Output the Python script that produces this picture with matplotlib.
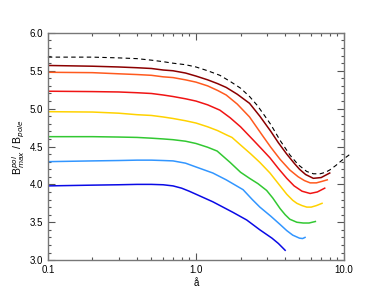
import matplotlib
matplotlib.use("Agg")
import matplotlib.pyplot as plt
from matplotlib.ticker import FixedLocator, NullFormatter

plt.rcParams["font.family"] = ["Liberation Sans", "DejaVu Sans"]

# ── data ─────────────────────────────────────────────────────────────────────
dash_x = [0.1, 0.2, 0.3, 0.4, 0.5, 0.6, 0.7, 0.85, 1.0, 1.2, 1.45, 1.7, 2.0, 2.3,
          2.6, 2.9, 3.2, 3.7, 4.3, 4.9, 5.6, 6.2, 6.9, 7.5, 8.0, 8.8, 9.7, 11.0]
dash_y = [5.68, 5.68, 5.67, 5.66, 5.64, 5.62, 5.60, 5.58, 5.55, 5.50, 5.44, 5.36, 5.27, 5.16,
          5.04, 4.91, 4.79, 4.58, 4.39, 4.26, 4.17, 4.14, 4.14, 4.16, 4.19, 4.25, 4.32, 4.40]

darkred_x = [0.1, 0.2, 0.3, 0.4, 0.5, 0.6, 0.7, 0.85, 1.0, 1.2, 1.4, 1.6, 1.9, 2.3,
             2.7, 3.2, 3.6, 4.1, 4.6, 5.0, 5.5, 6.2, 7.0, 8.0]
darkred_y = [5.57, 5.56, 5.55, 5.54, 5.53, 5.51, 5.50, 5.47, 5.43, 5.38, 5.33, 5.28, 5.19, 5.07,
             4.90, 4.70, 4.55, 4.40, 4.28, 4.20, 4.13, 4.08, 4.09, 4.15]

orange_x = [0.1, 0.2, 0.3, 0.4, 0.5, 0.6, 0.7, 0.85, 1.0, 1.2, 1.4, 1.6, 1.9, 2.3,
            2.8, 3.2, 3.7, 4.3, 4.9, 5.4, 5.9, 6.5, 7.1, 7.7]
orange_y = [5.48, 5.475, 5.46, 5.45, 5.44, 5.42, 5.41, 5.38, 5.35, 5.30, 5.24, 5.18, 5.06, 4.89,
            4.65, 4.49, 4.33, 4.19, 4.10, 4.05, 4.02, 4.02, 4.04, 4.06]

red_x = [0.1, 0.2, 0.3, 0.4, 0.5, 0.6, 0.7, 0.85, 1.0, 1.2, 1.45, 1.7, 2.0, 2.45,
         2.8, 3.16, 3.6, 4.1, 4.6, 5.2, 5.9, 6.6, 7.4]
red_y = [5.23, 5.225, 5.22, 5.21, 5.20, 5.18, 5.16, 5.13, 5.10, 5.05, 4.98, 4.88, 4.76, 4.58,
         4.46, 4.35, 4.21, 4.08, 3.98, 3.91, 3.88, 3.90, 3.95]

yellow_x = [0.1, 0.2, 0.3, 0.4, 0.5, 0.6, 0.7, 0.85, 1.0, 1.2, 1.4, 1.62, 1.75, 2.0,
            2.35, 2.7, 3.16, 3.7, 4.1, 4.5, 4.8, 5.2, 5.6, 6.0, 6.5, 7.1]
yellow_y = [4.96, 4.955, 4.94, 4.92, 4.91, 4.89, 4.87, 4.84, 4.81, 4.76, 4.71, 4.65, 4.62, 4.52,
            4.40, 4.29, 4.15, 3.98, 3.87, 3.79, 3.75, 3.72, 3.70, 3.70, 3.72, 3.75]

green_x = [0.1, 0.2, 0.3, 0.4, 0.5, 0.6, 0.7, 0.85, 1.0, 1.2, 1.39, 1.7, 2.0, 2.3,
           2.62, 3.0, 3.3, 3.7, 4.0, 4.3, 4.8, 5.3, 5.8, 6.4]
green_y = [4.63, 4.63, 4.625, 4.62, 4.61, 4.60, 4.59, 4.57, 4.54, 4.49, 4.44, 4.29, 4.16, 4.08,
           4.01, 3.92, 3.82, 3.68, 3.60, 3.54, 3.50, 3.49, 3.49, 3.51]

lblue_x = [0.1, 0.2, 0.3, 0.4, 0.5, 0.6, 0.7, 0.85, 1.0, 1.3, 1.6, 2.08, 2.4, 2.7,
           3.2, 3.7, 4.1, 4.5, 5.0, 5.25, 5.45]
lblue_y = [4.30, 4.31, 4.315, 4.32, 4.32, 4.315, 4.31, 4.28, 4.23, 4.15, 4.06, 3.93, 3.80, 3.70,
           3.58, 3.47, 3.39, 3.33, 3.29, 3.285, 3.30]

blue_x = [0.1, 0.2, 0.3, 0.4, 0.5, 0.6, 0.7, 0.8, 0.9, 1.0, 1.3, 1.78, 2.2, 2.7,
          3.26, 3.6, 4.0]
blue_y = [3.98, 3.99, 3.995, 4.00, 4.00, 3.995, 3.98, 3.95, 3.91, 3.87, 3.77, 3.63, 3.53, 3.40,
          3.29, 3.22, 3.13]

series = [
    (darkred_x, darkred_y, "#8B0000"),
    (orange_x, orange_y, "#FF5A1E"),
    (red_x, red_y, "#F01414"),
    (yellow_x, yellow_y, "#FFD200"),
    (green_x, green_y, "#32C832"),
    (lblue_x, lblue_y, "#3296FF"),
    (blue_x, blue_y, "#0A0AE6"),
]

fig = plt.figure(figsize=(3.74, 2.99), dpi=100)
ax = fig.add_axes([0.128, 0.130, 0.792, 0.760])

ax.plot(dash_x, dash_y, color="black", lw=0.8, ls=(0, (4, 3)), clip_on=False)
for xs, ys, c in series:
    ax.plot(xs, ys, color=c, lw=1.1)

ax.set_xscale("log")
ax.set_xlim(0.1, 10.0)
ax.set_ylim(3.0, 6.0)

ax.xaxis.set_major_locator(FixedLocator([0.1, 1.0, 10.0]))
ax.set_xticklabels(["0.1", "1.0", "10.0"])
minor_x = [m * d for d in (0.1, 1.0) for m in range(2, 10)]
ax.xaxis.set_minor_locator(FixedLocator(minor_x))
ax.xaxis.set_minor_formatter(NullFormatter())

ax.set_yticks([3.0, 3.5, 4.0, 4.5, 5.0, 5.5, 6.0])
ax.set_yticklabels(["3.0", "3.5", "4.0", "4.5", "5.0", "5.5", "6.0"])
ax.yaxis.set_minor_locator(FixedLocator([3.0 + 0.1 * i for i in range(31)]))

ax.tick_params(which="both", direction="in", top=True, right=True,
               labelsize=7, color="#555555", width=0.8)
ax.tick_params(which="major", length=5)
ax.tick_params(which="minor", length=2.5)
for s in ax.spines.values():
    s.set_color("#777777")
    s.set_linewidth(1.0)

ax.set_xlabel("å", fontsize=7, labelpad=2)
ax.set_ylabel(r"B$^{pol}_{max}$ / B$_{pole}$", fontsize=7.5, labelpad=2)

fig.savefig("out.png", dpi=100)
